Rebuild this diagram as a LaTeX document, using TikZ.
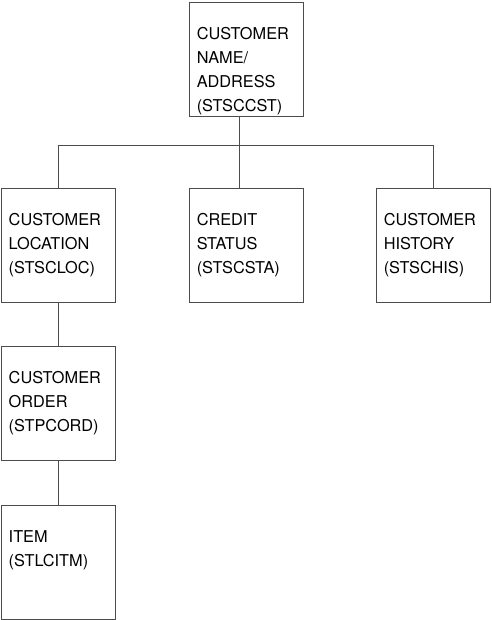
\documentclass[tikz,border=0pt]{standalone}
\usepackage{fontspec}
\setmainfont{TeX Gyre Heros}
\usetikzlibrary{calc}

\tikzset{
  seg/.style={draw=black!70,line width=0.9pt,rectangle,minimum width=114pt,minimum height=114pt,inner sep=0pt},
  segname/.style={anchor=north west,align=left,inner sep=0pt,font=\fontsize{16.3}{23.7}\selectfont},
  link/.style={draw=black!70,line width=0.9pt}
}

\begin{document}
\begin{tikzpicture}[x=1pt,y=-1pt]
                \useasboundingbox (0,0) rectangle (491,620);

                % segment boxes
                \node[seg] (cst) at (246,59) {};
                \node[seg] (loc) at (58,245) {};
                \node[seg] (sta) at (246,245) {};
                \node[seg] (his) at (433,245) {};
                \node[seg] (ord) at (58,403) {};
                \node[seg] (itm) at (58,562) {};

                % segment names
                \node[segname] (cstname) at ($(cst.north west)+(8,26)$) {CUSTOMER\\NAME/\\ADDRESS\\(STSCCST)};
                \node[segname] (locname) at ($(loc.north west)+(8,26)$) {CUSTOMER\\LOCATION\\(STSCLOC)};
                \node[segname] (staname) at ($(sta.north west)+(8,26)$) {CREDIT\\STATUS\\(STSCSTA)};
                \node[segname] (hisname) at ($(his.north west)+(8,26)$) {CUSTOMER\\HISTORY\\(STSCHIS)};
                \node[segname] (ordname) at ($(ord.north west)+(8,26)$) {CUSTOMER\\ORDER\\(STPCORD)};
                \node[segname] (itmname) at ($(itm.north west)+(8,26)$) {ITEM\\(STLCITM)};

                % connectors
                \coordinate (bus) at (239,145);
                \draw[link](cst.south -| bus)--(sta.north -| bus);
                \draw[link](loc.north)--(loc.north |- bus)--(his.north |- bus)--(his.north);
                \draw[link](loc.south)--(ord.north);
                \draw[link](ord.south)--(itm.north);
\end{tikzpicture}
\end{document}
